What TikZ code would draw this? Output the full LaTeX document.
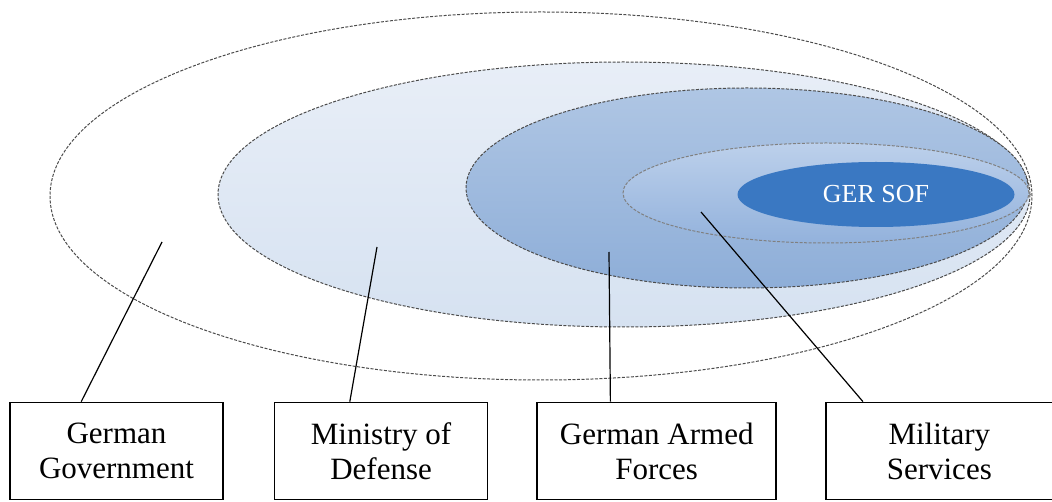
\documentclass[tikz,border=0pt]{standalone}
\usepackage{fontspec}
\setmainfont{Liberation Serif}
\usepackage{tikz}
\usetikzlibrary{shapes.geometric,positioning}

\definecolor{modtop}{HTML}{E8EEF7}
\definecolor{modbot}{HTML}{D6E2F1}
\definecolor{gaftop}{HTML}{AFC6E4}
\definecolor{gafbot}{HTML}{8EAED8}
\definecolor{miltop}{HTML}{BCD0EB}
\definecolor{milbot}{HTML}{93B2DC}
\definecolor{sofblue}{HTML}{3A78C2}

\begin{document}
\begin{tikzpicture}[
			x=1pt,y=-1pt,
			every node/.style={font=\fontsize{31}{35}\selectfont},
			rim/.style={draw=black!70,dash pattern=on 3pt off 1.5pt,line width=1pt},
			labelbox/.style={draw,line width=1.6pt,align=center,inner sep=0pt,minimum height=97pt},
			lead/.style={line width=1.2pt}
			]

			\useasboundingbox (0,0) rectangle (1052,502);

			% nested circles of responsibility
			\draw[rim,fill=white] (541,196) ellipse [x radius=491pt, y radius=184pt];
			\draw[rim,top color=modtop,bottom color=modbot] (624,194.5) ellipse [x radius=406pt, y radius=132.5pt];
			\draw[rim,top color=gaftop,bottom color=gafbot] (747,188) ellipse [x radius=281pt, y radius=100pt];
			\draw[rim,draw=black!50,top color=miltop,bottom color=milbot] (826,193) ellipse [x radius=203pt, y radius=50pt];
			\node[ellipse,fill=sofblue,text=white,minimum width=277pt,minimum height=65pt,inner sep=0pt,
				font=\fontsize{26}{30}\selectfont] (sof) at (876,194.5) {GER SOF};

			\coordinate (govpt) at (162,242);
			\coordinate (modpt) at (377,247);
			\coordinate (gafpt) at (609,252);
			\coordinate (milpt) at (701,212);

			% labels
			\node[labelbox,minimum width=213pt] (gov) at (116.5,451) {German\\Government};
			\node[labelbox,minimum width=213pt,right=50pt of gov] (mod) {Ministry of\\Defense};
			\node[labelbox,minimum width=239pt,right=48pt of mod] (gaf) {German Armed\\Forces};
			\node[labelbox,minimum width=227pt,right=48pt of gaf] (mil) {Military\\Services};

			\draw[lead] ([xshift=72pt]gov.north west) -- (govpt);
			\draw[lead] ([xshift=76pt]mod.north west) -- (modpt);
			\draw[lead] ([xshift=74pt]gaf.north west) -- (gafpt);
			\draw[lead] ([xshift=38pt]mil.north west) -- (milpt);

			\end{tikzpicture}
\end{document}
